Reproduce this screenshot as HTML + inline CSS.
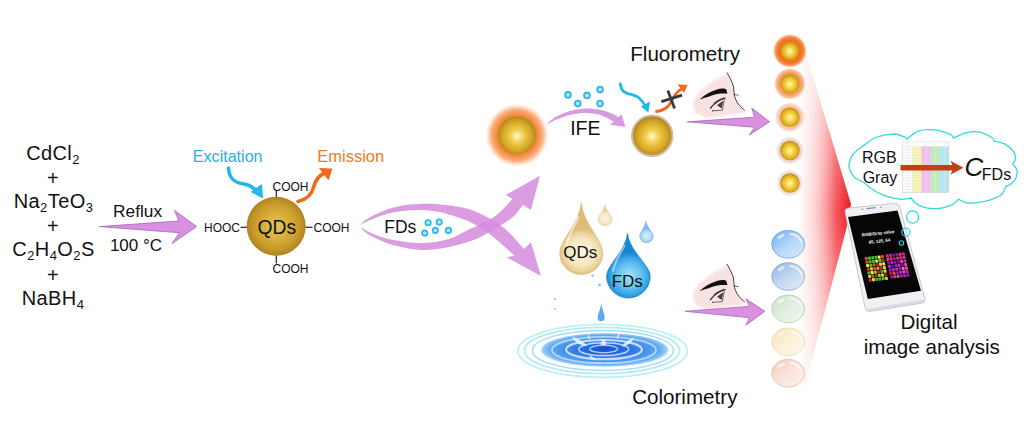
<!DOCTYPE html>
<html>
<head>
<meta charset="utf-8">
<title>QDs FDs sensing scheme</title>
<style>
html,body{margin:0;padding:0;background:#fff;}
body{width:1024px;height:422px;overflow:hidden;font-family:"Liberation Sans",sans-serif;}
svg{display:block;}
text{font-family:"Liberation Sans",sans-serif;fill:#111;}
.chem{font-size:20px;text-anchor:middle;}
.sub{font-size:13px;}
.sm{font-size:12px;}
</style>
</head>
<body>
<svg width="1024" height="422" viewBox="0 0 1024 422">
<defs>
  <radialGradient id="gold" cx="50%" cy="50%" r="50%">
    <stop offset="0" stop-color="#e8c658"/>
    <stop offset="0.45" stop-color="#d8ae3a"/>
    <stop offset="0.82" stop-color="#c4962a"/>
    <stop offset="1" stop-color="#ae8220"/>
  </radialGradient>
  <radialGradient id="goldw" cx="50%" cy="52%" r="50%">
    <stop offset="0" stop-color="#fffbe8"/>
    <stop offset="0.12" stop-color="#fbeaa0"/>
    <stop offset="0.4" stop-color="#eec844"/>
    <stop offset="0.75" stop-color="#d6a828"/>
    <stop offset="1" stop-color="#b48a1e"/>
  </radialGradient>
  <radialGradient id="glow" cx="50%" cy="50%" r="50%">
    <stop offset="0" stop-color="#f47a28"/>
    <stop offset="0.62" stop-color="#f5843a"/>
    <stop offset="0.8" stop-color="#f8a468" stop-opacity="0.9"/>
    <stop offset="0.92" stop-color="#fccbb0" stop-opacity="0.5"/>
    <stop offset="1" stop-color="#ffffff" stop-opacity="0"/>
  </radialGradient>
  <linearGradient id="beam" x1="1" y1="0" x2="0" y2="0">
    <stop offset="0" stop-color="#ee121c"/>
    <stop offset="0.28" stop-color="#f3444a" stop-opacity="0.9"/>
    <stop offset="0.58" stop-color="#f88e90" stop-opacity="0.55"/>
    <stop offset="0.84" stop-color="#fcc4c4" stop-opacity="0.28"/>
    <stop offset="1" stop-color="#ffffff" stop-opacity="0"/>
  </linearGradient>
  <linearGradient id="purp" x1="0" y1="0" x2="1" y2="0">
    <stop offset="0" stop-color="#d9a6e2"/>
    <stop offset="1" stop-color="#cf8fdc"/>
  </linearGradient>

  <radialGradient id="glow2" cx="50%" cy="50%" r="50%">
    <stop offset="0" stop-color="#f06a18"/><stop offset="0.7" stop-color="#f27424"/><stop offset="0.86" stop-color="#f69858" stop-opacity="0.9"/><stop offset="1" stop-color="#ffffff" stop-opacity="0"/>
  </radialGradient>
  <radialGradient id="glow3" cx="50%" cy="50%" r="50%">
    <stop offset="0" stop-color="#f48a40"/><stop offset="0.7" stop-color="#f6a064"/><stop offset="0.86" stop-color="#f9c09c" stop-opacity="0.9"/><stop offset="1" stop-color="#ffffff" stop-opacity="0"/>
  </radialGradient>
  <radialGradient id="glow4" cx="50%" cy="50%" r="50%">
    <stop offset="0" stop-color="#f6b088"/><stop offset="0.72" stop-color="#f8c4a6"/><stop offset="0.88" stop-color="#fbdccc" stop-opacity="0.9"/><stop offset="1" stop-color="#ffffff" stop-opacity="0"/>
  </radialGradient>
  <radialGradient id="glow5" cx="50%" cy="50%" r="50%">
    <stop offset="0" stop-color="#e8ccc0"/><stop offset="0.74" stop-color="#ecd8d0"/><stop offset="0.9" stop-color="#f4e8e4" stop-opacity="0.9"/><stop offset="1" stop-color="#ffffff" stop-opacity="0"/>
  </radialGradient>
  <linearGradient id="bub1" x1="0.15" y1="0.1" x2="0.85" y2="0.9">
    <stop offset="0" stop-color="#7fb8ee"/><stop offset="0.5" stop-color="#b4d6f6"/><stop offset="1" stop-color="#d4e8fa"/>
  </linearGradient>
  <linearGradient id="bub2" x1="0.15" y1="0.1" x2="0.85" y2="0.9">
    <stop offset="0" stop-color="#9cbce6"/><stop offset="0.5" stop-color="#c4d8f0"/><stop offset="1" stop-color="#dde8f6"/>
  </linearGradient>
  <linearGradient id="bub3" x1="0.15" y1="0.1" x2="0.85" y2="0.9">
    <stop offset="0" stop-color="#d0e5cf"/><stop offset="0.5" stop-color="#e3efe1"/><stop offset="1" stop-color="#f0f6ee"/>
  </linearGradient>
  <linearGradient id="bub4" x1="0.15" y1="0.1" x2="0.85" y2="0.9">
    <stop offset="0" stop-color="#f9e8be"/><stop offset="0.5" stop-color="#fbf1d8"/><stop offset="1" stop-color="#fdf7eb"/>
  </linearGradient>
  <linearGradient id="bub5" x1="0.15" y1="0.1" x2="0.85" y2="0.9">
    <stop offset="0" stop-color="#f5d2c1"/><stop offset="0.5" stop-color="#f9e4da"/><stop offset="1" stop-color="#fbf0eb"/>
  </linearGradient>
  <radialGradient id="dropg" gradientUnits="userSpaceOnUse" cx="582" cy="252" r="23">
    <stop offset="0" stop-color="#fbf4de"/><stop offset="0.55" stop-color="#f6e8c2"/><stop offset="0.82" stop-color="#ecd6a0"/><stop offset="1" stop-color="#dcbc78"/>
  </radialGradient>
  <radialGradient id="dropg2" gradientUnits="userSpaceOnUse" cx="605" cy="218.500" r="8">
    <stop offset="0" stop-color="#fcf6e4"/><stop offset="0.6" stop-color="#f6ead0"/><stop offset="1" stop-color="#e6cf9c"/>
  </radialGradient>
  <radialGradient id="dropb" gradientUnits="userSpaceOnUse" cx="629.500" cy="276" r="23.500">
    <stop offset="0" stop-color="#a6e2fa"/><stop offset="0.5" stop-color="#68c2f0"/><stop offset="0.8" stop-color="#36a4e4"/><stop offset="1" stop-color="#1886d0"/>
  </radialGradient>
  <radialGradient id="dropb2" gradientUnits="userSpaceOnUse" cx="646.500" cy="236" r="7.500">
    <stop offset="0" stop-color="#dceefb"/><stop offset="0.6" stop-color="#b4dcf6"/><stop offset="1" stop-color="#7cbcec"/>
  </radialGradient>
  <radialGradient id="rip" cx="50%" cy="48%" r="50%">
    <stop offset="0" stop-color="#1a54d0"/><stop offset="0.3" stop-color="#2468e0"/><stop offset="0.6" stop-color="#3f8cec"/><stop offset="0.85" stop-color="#62aaf2"/><stop offset="0.96" stop-color="#8cc6f6" stop-opacity="0.9"/><stop offset="1" stop-color="#b8e0fa" stop-opacity="0.3"/>
  </radialGradient>
  <filter id="soft" x="-10%" y="-10%" width="120%" height="120%"><feGaussianBlur stdDeviation="1.1"/></filter>
  <linearGradient id="vfade" gradientUnits="userSpaceOnUse" x1="0" y1="20" x2="0" y2="405">
    <stop offset="0" stop-color="#fff" stop-opacity="0.3"/><stop offset="0.28" stop-color="#fff" stop-opacity="0.72"/><stop offset="0.5" stop-color="#fff" stop-opacity="1"/><stop offset="0.72" stop-color="#fff" stop-opacity="0.72"/><stop offset="1" stop-color="#fff" stop-opacity="0.3"/>
  </linearGradient>
  <mask id="bmask" maskUnits="userSpaceOnUse" x="780" y="0" width="100" height="422"><rect x="780" y="0" width="100" height="422" fill="url(#vfade)"/></mask>
  <radialGradient id="golds" cx="50%" cy="52%" r="50%">
    <stop offset="0" stop-color="#fffef2"/><stop offset="0.2" stop-color="#fce97c"/><stop offset="0.55" stop-color="#f2c832"/><stop offset="0.85" stop-color="#d8a820"/><stop offset="1" stop-color="#b88c1c"/>
  </radialGradient>
  <filter id="soft2" x="-5%" y="-20%" width="110%" height="140%"><feGaussianBlur stdDeviation="0.5"/></filter>
</defs>

<!-- LEFT CHEMICALS -->
<g id="chems" letter-spacing="0.4">
<text class="chem" x="53" y="160">CdCl<tspan class="sub" dy="4">2</tspan></text>
<text class="chem" x="53" y="184.500">+</text>
<text class="chem" x="53.500" y="208">Na<tspan class="sub" dy="4">2</tspan><tspan dy="-4">TeO</tspan><tspan class="sub" dy="4">3</tspan></text>
<text class="chem" x="53" y="233">+</text>
<text class="chem" x="53.500" y="256">C<tspan class="sub" dy="4">2</tspan><tspan dy="-4">H</tspan><tspan class="sub" dy="4">4</tspan><tspan dy="-4">O</tspan><tspan class="sub" dy="4">2</tspan><tspan dy="-4">S</tspan></text>
<text class="chem" x="53" y="281.500">+</text>
<text class="chem" x="53" y="304.500">NaBH<tspan class="sub" dy="4">4</tspan></text>
</g>

<!-- REFLUX ARROW -->
<g id="reflux">
<path d="M99.500,226.600 L179,221 L174.500,210.500 L196.700,226.600 L172,243.500 L179.500,232.700 Z" fill="#d990e0" stroke="#aa6fc0" stroke-width="0.9" stroke-linejoin="miter"/>
<text x="137.600" y="216.600" font-size="17.300" text-anchor="middle">Reflux</text>
<text x="136" y="250.500" font-size="17" text-anchor="middle">100 °C</text>
</g>

<!-- QDs sphere -->
<g id="qd">
<g stroke="#222" stroke-width="1.200">
<line x1="276.300" y1="191" x2="276.300" y2="199"/>
<line x1="276.300" y1="253" x2="276.300" y2="263.500"/>
<line x1="240.500" y1="227.300" x2="249" y2="227.300"/>
<line x1="303" y1="227.300" x2="312.500" y2="227.300"/>
</g>
<circle cx="276.200" cy="226.200" r="29.500" fill="url(#gold)"/>
<text x="276.800" y="233.500" font-size="19.300" text-anchor="middle">QDs</text>
<text class="sm" x="290.500" y="190.500" text-anchor="middle">COOH</text>
<text class="sm" x="290.500" y="273.200" text-anchor="middle">COOH</text>
<text class="sm" x="222" y="231.700" text-anchor="middle">HOOC</text>
<text class="sm" x="331.500" y="231.700" text-anchor="middle">COOH</text>
<text x="227.700" y="162.300" font-size="16.100" text-anchor="middle" style="fill:#2aaee4">Excitation</text>
<text x="350.700" y="162.300" font-size="16.500" text-anchor="middle" style="fill:#f07a28">Emission</text>
<path d="M228.500,168 C229,180 236,183 244,184 C250,185 254,188 257,192" fill="none" stroke="#25b6ea" stroke-width="3.600" stroke-linecap="round"/>
<path d="M263,198.500 L250.500,192 L262,184 Z" fill="#25b6ea"/>
<path d="M298,201.500 C308,199 312,194 314,186 C316,179 319,175.500 324,173.500" fill="none" stroke="#ee6a1c" stroke-width="3.600" stroke-linecap="round"/>
<path d="M332.500,168.500 L319,168 L328.500,180.500 Z" fill="#ee6a1c"/>
</g>

<!-- FDs fish arrows -->
<g id="fish">
<!-- lower band -> upper right arrow -->
<path d="M359.4,225.8 C360.7,227.1 362.9,230.8 367.0,233.5 C371.1,236.2 378.4,239.7 384.1,242.0 C389.8,244.3 395.5,245.8 401.2,247.1 C406.9,248.4 412.5,249.3 418.2,249.7 C423.9,250.1 429.6,249.9 435.3,249.3 C441.0,248.7 446.8,247.6 452.3,246.3 C457.8,245.0 463.3,243.4 468.4,241.7 C473.4,240.0 477.4,238.7 482.6,236.1 C487.8,233.5 494.5,229.4 499.7,226.1 C504.9,222.8 510.0,219.8 513.9,216.2 C517.8,212.6 521.5,206.7 523.0,204.8 L531.0,209.9 L540.0,175.8 L506.0,194.8 L512.5,199.1 C509.9,201.7 501.9,210.7 496.9,214.7 C491.9,218.7 487.4,220.8 482.6,223.3 C477.9,225.8 473.4,227.4 468.4,229.8 C463.3,232.2 457.8,235.7 452.3,237.7 C446.8,239.7 441.0,241.1 435.3,242.0 C429.6,242.9 423.9,243.0 418.2,242.9 C412.5,242.8 406.9,242.1 401.2,241.2 C395.5,240.3 389.8,239.4 384.1,237.7 C378.4,236.0 371.1,232.9 367.0,230.9 C362.9,228.9 360.7,226.7 359.4,225.8 Z" fill="#d68ddc" fill-opacity="0.87"/>
<!-- upper band -> lower right arrow -->
<path d="M359.4,225.8 C360.7,224.7 362.9,221.6 367.0,219.0 C371.1,216.4 378.4,212.7 384.1,210.5 C389.8,208.3 395.5,206.8 401.2,205.7 C406.9,204.6 412.5,204.3 418.2,204.0 C423.9,203.7 429.6,203.7 435.3,204.0 C441.0,204.3 446.8,204.9 452.3,205.7 C457.8,206.5 463.3,207.5 468.4,209.0 C473.4,210.5 477.4,212.1 482.6,214.7 C487.8,217.3 494.7,221.1 499.7,224.7 C504.7,228.2 508.5,232.0 512.5,236.0 C516.5,240.0 522.0,246.8 523.9,248.9 L531.0,242.3 L540.9,275.9 L506.8,257.4 L514.5,255.4 C513.0,254.1 508.8,250.4 505.4,247.4 C502.0,244.4 497.8,240.6 494.0,237.5 C490.2,234.4 486.9,231.7 482.6,229.0 C478.3,226.3 473.4,223.5 468.4,221.3 C463.3,219.1 457.8,217.3 452.3,215.6 C446.8,213.9 441.0,212.2 435.3,211.3 C429.6,210.4 423.9,210.1 418.2,210.1 C412.5,210.1 406.9,210.5 401.2,211.3 C395.5,212.1 389.8,213.0 384.1,214.7 C378.4,216.4 371.1,219.7 367.0,221.5 C362.9,223.3 360.7,225.1 359.4,225.8 Z" fill="#d68ddc" fill-opacity="0.87"/>
<text x="400.300" y="232.800" font-size="17.500" text-anchor="middle">FDs</text>
<g fill="#a4ecff" stroke="#30b4ea" stroke-width="1.7">
<circle cx="428.100" cy="222.700" r="2.700"/>
<circle cx="439.200" cy="222.100" r="2.700"/>
<circle cx="424.700" cy="233.100" r="2.700"/>
<circle cx="435.300" cy="230.400" r="2.700"/>
<circle cx="448.400" cy="230.400" r="2.700"/>
</g>
</g>

<!-- TOP ROW: fluorometry -->
<g id="top">
<circle cx="517" cy="135.300" r="32" fill="url(#glow)"/>
<circle cx="517" cy="135.300" r="19" fill="url(#goldw)"/>
<!-- IFE crescent arrow -->
<path d="M545.4,125.5 C547.1,124.1 551.2,119.5 555.4,117.0 C559.6,114.5 565.7,112.2 570.8,110.8 C575.9,109.4 581.1,108.6 586.2,108.5 C591.3,108.4 597.0,109.0 601.6,110.0 C606.2,111.0 611.2,113.5 614.0,114.7 C616.8,115.9 617.8,116.6 618.6,117.0 L621.4,114.2 L625.5,127.0 L610.1,124.7 L614.0,121.6 C611.9,120.6 606.2,116.8 601.6,115.4 C597.0,114.0 591.3,113.2 586.2,113.1 C581.1,113.0 575.9,113.5 570.8,114.7 C565.7,115.9 559.6,118.3 555.4,120.1 C551.2,121.9 547.1,124.6 545.4,125.5 Z" fill="#d99ae0"/>
<text x="585.300" y="135.200" font-size="19.500" text-anchor="middle">IFE</text>
<g fill="#a4ecff" stroke="#30b4ea" stroke-width="1.8">
<circle cx="568" cy="94.900" r="2.900"/>
<circle cx="587" cy="95.400" r="2.900"/>
<circle cx="600.100" cy="89.600" r="2.900"/>
<circle cx="577.800" cy="103.600" r="2.900"/>
<circle cx="600.100" cy="103.600" r="2.900"/>
</g>
<!-- quenched sphere -->
<circle cx="652.200" cy="135.700" r="21.300" fill="#d2bdb2"/>
<circle cx="652.200" cy="135.700" r="19.300" fill="url(#goldw)"/>
<!-- cyan wavy arrow -->
<path d="M620.300,84 C622,97 633,92 639,98 C642,100.500 644,103.500 645.500,106.500" fill="none" stroke="#1fb8ea" stroke-width="2.800" stroke-linecap="round"/>
<path d="M648.300,112.600 L641,106.400 L650,101.400 Z" fill="#1fb8ea"/>
<!-- orange wavy arrow -->
<path d="M656.500,111.500 C664,110.500 668,108 671,102 C674,95.500 677,91 682,89" fill="none" stroke="#ee6a1c" stroke-width="2.800" stroke-linecap="round"/>
<path d="M687.600,85 L684,93 L677.500,84.300 Z" fill="#ee6a1c"/>
<!-- X mark -->
<g stroke="#3a3a3a" stroke-width="2.800" stroke-linecap="butt">
<line x1="661.400" y1="101.600" x2="682.100" y2="95.200"/>
<line x1="667.800" y1="90.500" x2="674.600" y2="108.600"/>
</g>
<!-- face top -->
<g id="faceA">
<path d="M727.7,73.3 L713.4,80.9 L699.2,92.0 L692.8,102.3 L695.0,112.7 L706.3,118.3 L746.2,112.7 L740.8,107.0 L735.5,99.1 L734.1,92.7 L733.1,86.3 L730.5,79.2 Z" fill="#f8e2e2" filter="url(#soft)"/>
<path d="M727.1,72.8 C727.7,73.9 729.5,77.0 730.5,79.2 C731.6,81.5 732.8,84.0 733.4,86.3 C734.0,88.7 733.7,91.3 734.1,93.4 C734.4,95.6 734.7,97.2 735.5,99.1 C736.3,101.1 737.6,103.3 739.1,105.1 C740.5,107.0 743.6,109.4 744.5,110.2" fill="none" stroke="#111" stroke-width="0.8" stroke-linecap="round"/>
<path d="M733.6,94.2 L738.8,95.3" stroke="#111" stroke-width="0.6" fill="none"/>
<path d="M699.9,99.1 C700.8,98.5 703.1,96.3 704.9,95.2 C706.7,94.0 708.6,93.0 710.6,92.0 C712.6,91.1 715.1,90.1 717.0,89.5 C718.9,88.9 720.7,88.5 722.3,88.5 C723.8,88.4 725.6,89.1 726.3,89.2 L727.4,93.4 C726.3,93.5 722.8,93.4 720.6,93.6 C718.4,93.8 716.3,94.2 714.2,94.7 C712.0,95.3 710.1,96.1 707.8,96.9 C705.4,97.6 701.2,98.9 699.9,99.3 Z" fill="#141010"/>
<path d="M711.7,108.4 L724.5,98.9 L722.6,110.2 Z" fill="#f4ecec"/>
<path d="M717.0,105.3 L723.4,100.6 L721.7,108.4 Z" fill="#4a3c3c"/>
<path d="M710.6,108.0 C711.2,107.3 712.7,105.4 714.2,104.1 C715.6,102.9 717.3,101.6 719.1,100.6 C721.0,99.5 724.1,98.4 725.1,98.0" fill="none" stroke="#111" stroke-width="1.200" stroke-linecap="round"/>
<path d="M713.4,103.1 C714.3,102.6 716.7,100.9 718.4,100.0 C720.1,99.0 722.8,97.9 723.7,97.4" fill="none" stroke="#222" stroke-width="0.5"/>
<path d="M712.0,110.8 L722.3,110.2 L724.5,98.9" fill="none" stroke="#111" stroke-width="0.6" stroke-linejoin="round"/>
<circle cx="712.7" cy="110.9" r="0.500" fill="#333"/>
</g>
<!-- arrow to column -->
<path d="M687.400,121.800 L754.600,117.200 L751.800,108 L769.500,121.800 L749.300,135 L754.600,127.200 Z" fill="#d990e0" stroke="#aa6fc0" stroke-width="0.9"/>
</g>


<!-- RED BEAM -->
<path d="M796,20 L851,204 L846,230 L800,405 Z" fill="url(#beam)" mask="url(#bmask)"/>

<!-- FLUOROMETRY COLUMN -->
<g id="col1">
<circle cx="789.900" cy="50.900" r="17.500" fill="url(#glow2)"/>
<circle cx="789.900" cy="83.800" r="16.500" fill="url(#glow3)"/>
<circle cx="789.900" cy="117.200" r="15.500" fill="url(#glow4)"/>
<circle cx="789.900" cy="150.500" r="14.500" fill="url(#glow5)"/>
<circle cx="789.900" cy="183" r="14" fill="url(#glow5)" opacity="0.85"/>
<circle cx="789.900" cy="50.900" r="9.300" fill="url(#golds)"/>
<circle cx="789.900" cy="83.800" r="9.600" fill="url(#golds)"/>
<circle cx="789.900" cy="117.200" r="9.800" fill="url(#golds)"/>
<circle cx="789.900" cy="150.500" r="9.800" fill="url(#golds)"/>
<circle cx="789.900" cy="183" r="9.800" fill="url(#golds)"/>
</g>

<!-- COLORIMETRY COLUMN -->
<g id="col2">
<ellipse cx="788.200" cy="244.3" rx="16.500" ry="13.800" fill="url(#bub1)" stroke="#5a9ee0" stroke-width="0.9" stroke-opacity="0.85"/>
<ellipse cx="788.200" cy="276.5" rx="16.500" ry="13.800" fill="url(#bub2)" stroke="#7ea6d8" stroke-width="0.9" stroke-opacity="0.85"/>
<ellipse cx="788.200" cy="308.8" rx="16.500" ry="13.800" fill="url(#bub3)" stroke="#a8c8a6" stroke-width="0.9" stroke-opacity="0.85"/>
<ellipse cx="788.200" cy="341.8" rx="16.500" ry="13.800" fill="url(#bub4)" stroke="#ecd4a0" stroke-width="0.9" stroke-opacity="0.85"/>
<ellipse cx="788.200" cy="373.2" rx="16.500" ry="13.800" fill="url(#bub5)" stroke="#e6b8a2" stroke-width="0.9" stroke-opacity="0.85"/>
<g fill="none" stroke="#fff" stroke-opacity="0.8" stroke-width="1.600" stroke-linecap="round">
<path d="M790.0,233.8 C795.0,234.3 799.5,237.3 801.5,241.8"/>
<path d="M790.0,266.0 C795.0,266.5 799.5,269.5 801.5,274.0"/>
<path d="M790.0,298.3 C795.0,298.8 799.5,301.8 801.5,306.3"/>
<path d="M790.0,331.3 C795.0,331.8 799.5,334.8 801.5,339.3"/>
<path d="M790.0,362.7 C795.0,363.2 799.5,366.2 801.5,370.7"/>
</g>
<g fill="#fff" fill-opacity="0.6">
<ellipse cx="781" cy="236.3" rx="4" ry="1.600" transform="rotate(-30 781 236.3)"/>
<ellipse cx="781" cy="268.5" rx="4" ry="1.600" transform="rotate(-30 781 268.5)"/>
<ellipse cx="781" cy="300.8" rx="4" ry="1.600" transform="rotate(-30 781 300.8)"/>
<ellipse cx="781" cy="333.8" rx="4" ry="1.600" transform="rotate(-30 781 333.8)"/>
<ellipse cx="781" cy="365.2" rx="4" ry="1.600" transform="rotate(-30 781 365.2)"/>
</g>
</g>

<!-- DROPS -->
<g id="drops">
<path d="M581.3,202.7 C582.8,222.8 602.8,240.4 602.8,253.0 A21.5,21.5 0 1 1 559.8,253.0 C559.8,240.4 579.8,222.8 581.3,202.7 Z" fill="url(#dropg)" stroke="#d8b870" stroke-width="0.7"/>
<path d="M566,247 C568,236 574,228 578,217" fill="none" stroke="#fff" stroke-opacity="0.55" stroke-width="2.200" stroke-linecap="round"/>
<path d="M605.0,204.8 C605.5,209.7 612.0,216.0 612.0,218.8 A7.0,7.0 0 1 1 598.0,218.8 C598.0,216.0 604.5,209.7 605.0,204.8 Z" fill="url(#dropg2)" stroke="#e4cc98" stroke-width="0.6"/>
<path d="M627.5,233.5 C629.0,250.6 650.2,265.5 650.2,276.2 A21.8,21.8 0 1 1 606.6,276.2 C606.6,265.5 626.0,250.6 627.5,233.5 Z" fill="url(#dropb)" stroke="#1480cc" stroke-width="0.8"/>
<path d="M613,271 C615,261 620,254 624.500,246" fill="none" stroke="#fff" stroke-opacity="0.45" stroke-width="2.200" stroke-linecap="round"/>
<path d="M645.9,221.2 C646.4,226.4 653.3,233.0 653.3,236.0 A6.8,6.8 0 1 1 639.7,236.0 C639.7,233.0 645.4,226.4 645.9,221.2 Z" fill="url(#dropb2)" stroke="#78b8ea" stroke-width="0.6"/>
<path d="M601.200,302.500 C601.800,310 604.600,313 604.600,317.500 A3.400,3.800 0 1 1 597.800,317.500 C597.800,313 600.600,310 601.200,302.500 Z" fill="#5aa8ee"/>
<g fill="#7cc0f0"><circle cx="592.700" cy="275.600" r="1.200"/><circle cx="599.500" cy="285" r="1.300"/><circle cx="555.200" cy="299" r="0.900"/><circle cx="555.200" cy="308.800" r="0.900"/><circle cx="597" cy="266" r="0.800"/></g>
<text x="580.300" y="257.500" font-size="17" text-anchor="middle">QDs</text>
<text x="627.300" y="287.300" font-size="17" text-anchor="middle">FDs</text>
</g>

<!-- RIPPLE -->
<g id="ripple">
<ellipse cx="602.700" cy="350.900" rx="84.600" ry="26.500" fill="none" stroke="#bdf0f2" stroke-width="1.900" filter="url(#soft2)"/>
<ellipse cx="602" cy="350.500" rx="77.500" ry="23.200" fill="none" stroke="#b4ecf4" stroke-width="1.800" filter="url(#soft2)"/>
<ellipse cx="603" cy="350.500" rx="70.500" ry="20" fill="none" stroke="#a4dcf8" stroke-width="1.500" filter="url(#soft2)"/>
<ellipse cx="604.700" cy="350.400" rx="64.500" ry="17.200" fill="url(#rip)"/>
<ellipse cx="604" cy="350" rx="52" ry="13.200" fill="none" stroke="#cfe8fc" stroke-width="1.800" opacity="0.75"/>
<ellipse cx="604" cy="349.600" rx="38" ry="9.600" fill="none" stroke="#ffffff" stroke-width="2.200" opacity="0.7"/>
<ellipse cx="603.700" cy="349.200" rx="25" ry="6.400" fill="none" stroke="#e0f0fe" stroke-width="1.600" opacity="0.8"/>
<ellipse cx="603.700" cy="349" rx="14" ry="3.800" fill="none" stroke="#bfe0fc" stroke-width="1.300" opacity="0.9"/>
<ellipse cx="603.700" cy="349" rx="5" ry="1.700" fill="#1a50c8"/>
<g fill="#e8f4ff" opacity="0.9">
<path d="M572,337 C578,338 584,342 587,346 C581,346 574,342 572,337 Z"/>
<path d="M634,338 C628,339.500 624,343 621.500,346.500 C627.500,346 632,342.500 634,338 Z"/>
<path d="M603.500,339 C605.500,341 606.500,343 606.500,344.500 C604.500,345.200 602,345.200 600.500,344.500 C600.500,343 601.500,341 603.500,339 Z"/>
<path d="M588,333.500 C589.500,336 590.200,338 590,340 C588.500,339 587.500,336.500 588,333.500 Z"/>
<path d="M620,332.500 C619.500,335 618.500,337.500 617,339 C616.600,337 617.500,334.500 620,332.500 Z"/>
<path d="M589,355 C592,356 595,358 596,360 C592.500,360 590,358 589,355 Z"/>
</g>
</g>

<!-- BOTTOM FACE + ARROW -->
<g id="faceB" transform="translate(0,191.500)">
<path d="M727.7,73.3 L713.4,80.9 L699.2,92.0 L692.8,102.3 L695.0,112.7 L706.3,118.3 L746.2,112.7 L740.8,107.0 L735.5,99.1 L734.1,92.7 L733.1,86.3 L730.5,79.2 Z" fill="#f8e2e2" filter="url(#soft)"/>
<path d="M727.1,72.8 C727.7,73.9 729.5,77.0 730.5,79.2 C731.6,81.5 732.8,84.0 733.4,86.3 C734.0,88.7 733.7,91.3 734.1,93.4 C734.4,95.6 734.7,97.2 735.5,99.1 C736.3,101.1 737.6,103.3 739.1,105.1 C740.5,107.0 743.6,109.4 744.5,110.2" fill="none" stroke="#111" stroke-width="0.8" stroke-linecap="round"/>
<path d="M733.6,94.2 L738.8,95.3" stroke="#111" stroke-width="0.6" fill="none"/>
<path d="M699.9,99.1 C700.8,98.5 703.1,96.3 704.9,95.2 C706.7,94.0 708.6,93.0 710.6,92.0 C712.6,91.1 715.1,90.1 717.0,89.5 C718.9,88.9 720.7,88.5 722.3,88.5 C723.8,88.4 725.6,89.1 726.3,89.2 L727.4,93.4 C726.3,93.5 722.8,93.4 720.6,93.6 C718.4,93.8 716.3,94.2 714.2,94.7 C712.0,95.3 710.1,96.1 707.8,96.9 C705.4,97.6 701.2,98.9 699.9,99.3 Z" fill="#141010"/>
<path d="M711.7,108.4 L724.5,98.9 L722.6,110.2 Z" fill="#f4ecec"/>
<path d="M717.0,105.3 L723.4,100.6 L721.7,108.4 Z" fill="#4a3c3c"/>
<path d="M710.6,108.0 C711.2,107.3 712.7,105.4 714.2,104.1 C715.6,102.9 717.3,101.6 719.1,100.6 C721.0,99.5 724.1,98.4 725.1,98.0" fill="none" stroke="#111" stroke-width="1.200" stroke-linecap="round"/>
<path d="M713.4,103.1 C714.3,102.6 716.7,100.9 718.4,100.0 C720.1,99.0 722.8,97.9 723.7,97.4" fill="none" stroke="#222" stroke-width="0.5"/>
<path d="M712.0,110.8 L722.3,110.2 L724.5,98.9" fill="none" stroke="#111" stroke-width="0.6" stroke-linejoin="round"/>
<circle cx="712.7" cy="110.9" r="0.500" fill="#333"/>
</g>
<path d="M685.200,311.300 L749.600,306.400 L745.800,298.800 L764.800,311.300 L745.800,325.300 L749.600,317.700 Z" fill="#d990e0" stroke="#aa6fc0" stroke-width="0.9"/>

<!-- CLOUD -->
<g id="cloud">
<path d="M864.9,144.6 C866.7,143.5 870.6,139.3 875.6,137.5 C880.5,135.7 889.6,134.0 894.5,134.0 C899.5,134.0 903.2,136.7 905.2,137.5 C907.3,138.4 906.6,138.9 906.9,139.2 C908.8,137.8 913.6,132.7 918.3,131.1 C922.9,129.6 929.5,129.4 934.9,129.9 C940.2,130.5 947.2,133.1 950.3,134.4 C953.4,135.8 952.8,137.6 953.4,138.2 C955.4,137.3 961.3,133.8 965.7,132.8 C970.1,131.8 975.6,131.3 979.9,132.1 C984.3,132.9 989.4,136.0 991.8,137.5 C994.1,139.0 993.7,140.5 994.1,141.1 C996.1,141.7 1002.6,142.7 1006.0,144.6 C1009.4,146.6 1012.8,150.3 1014.3,152.9 C1015.8,155.6 1015.3,158.8 1015.0,160.5 C1014.7,162.3 1013.0,163.1 1012.6,163.6 C1013.3,164.7 1016.4,167.4 1016.9,170.0 C1017.4,172.6 1016.7,176.5 1015.5,179.0 C1014.3,181.5 1011.1,183.8 1009.6,185.0 C1008.0,186.1 1006.6,185.9 1006.0,186.1 C1005.3,187.5 1004.1,192.2 1001.7,194.4 C999.4,196.7 995.0,198.2 991.8,199.4 C988.5,200.6 986.2,201.2 982.3,201.8 C978.3,202.4 972.0,203.6 968.1,203.2 C964.1,202.8 960.1,199.9 958.6,199.2 C957.4,200.2 955.4,203.5 951.5,205.1 C947.5,206.7 940.4,208.7 934.9,208.7 C929.3,208.7 922.2,206.9 918.3,205.1 C914.3,203.3 912.3,199.2 911.1,198.0 C909.2,198.2 904.0,199.7 899.3,199.2 C894.5,198.7 887.6,196.9 882.7,194.9 C877.7,192.9 872.7,189.4 869.6,187.3 C866.6,185.3 865.1,183.4 864.2,182.6 C862.5,181.7 856.7,179.4 854.2,177.1 C851.8,174.9 850.3,171.6 849.5,169.1 C848.7,166.5 848.8,164.6 849.5,162.0 C850.2,159.3 851.2,156.3 853.8,153.4 C856.3,150.5 863.0,146.1 864.9,144.6 Z" fill="#fff" stroke="#36d6dc" stroke-width="1.300" stroke-linejoin="round"/>
<text x="879.300" y="163.100" font-size="16" text-anchor="middle">RGB</text>
<text x="880" y="182.600" font-size="16" text-anchor="middle">Gray</text>
<!-- table -->
<g id="tbl">
<rect x="902.4" y="141.9" width="46.5" height="50.4" fill="#fdfdfd"/>
<rect x="912.7" y="146.6" width="8.8" height="45.7" fill="#fbf8ae"/>
<rect x="921.5" y="146.6" width="9.2" height="45.7" fill="#f5bcf4"/>
<rect x="930.7" y="146.6" width="9.0" height="45.7" fill="#baf0b6"/>
<rect x="939.7" y="146.6" width="9.2" height="45.7" fill="#b6e8f5"/>
<g stroke="#d0d0d0" stroke-width="0.3" fill="none"><path d="M902.4,146.6H948.9 M902.4,149.5H948.9 M902.4,152.3H948.9 M902.4,155.2H948.9 M902.4,158.0H948.9 M902.4,160.9H948.9 M902.4,163.8H948.9 M902.4,166.6H948.9 M902.4,169.5H948.9 M902.4,172.3H948.9 M902.4,175.2H948.9 M902.4,178.1H948.9 M902.4,180.9H948.9 M902.4,183.8H948.9 M902.4,186.6H948.9 M902.4,189.5H948.9 M902.4,192.4H948.9"/><path d="M907.5,141.9V192.3 M912.7,146.6V192.3 M917.1,141.9V192.3 M921.5,146.6V192.3 M926.1,141.9V192.3 M930.7,146.6V192.3 M935.2,141.9V192.3 M939.7,146.6V192.3 M944.3,141.9V192.3"/></g>
<g stroke="#fff" stroke-width="0.5" stroke-opacity="0.7"><path d="M917.100,146.6V192.3 M926.100,146.6V192.3 M935.200,146.6V192.3 M944.300,146.6V192.3"/></g>
<rect x="902.4" y="141.9" width="46.5" height="50.4" fill="none" stroke="#c4c4c4" stroke-width="0.4"/>
</g>
<path d="M900.500,165.100 L952.500,165.100 L950.300,160.800 L963.500,167.800 L950.300,174.800 L952.500,170.500 L900.500,170.500 Z" fill="#c83c14"/>
<text x="964.500" y="176.400" font-size="26" font-style="italic">C</text>
<text x="981.800" y="180.400" font-size="16">FDs</text>
</g>

<!-- PHONE -->
<g id="phone">
<path d="M845.2,212.9 Q844.3,208.5 848.8,208.0 L894.0,203.3 Q898.5,202.8 899.7,207.1 L924.8,298.2 Q926.0,302.5 921.6,303.2 L870.4,311.3 Q866.0,312.0 865.1,307.6 Z" fill="#f0f0f4" stroke="#c2c2ca" stroke-width="0.9"/>
<path d="M867.500,311.700 L925,302.200 L924.300,299.500 L866.800,309 Z" fill="#d4d4de" opacity="0.8"/>
<path d="M848.0,217.0 L897.5,210.4 L921.0,290.7 L867.8,299.0 Z" fill="#060606"/>
<circle cx="912.600" cy="217" r="6.100" fill="#fff" stroke="#36d6dc" stroke-width="1.200"/>
<circle cx="905.900" cy="232.300" r="4.100" fill="none" stroke="#36d6dc" stroke-width="1.200"/>
<circle cx="901.400" cy="243" r="2.200" fill="none" stroke="#36d6dc" stroke-width="1.100"/>
<g fill="#8a8a92"><circle cx="862.500" cy="209.300" r="0.800"/><path d="M866.500,208 L875.500,207 L875.600,208.200 L866.600,209.200 Z"/><circle cx="881" cy="207.200" r="0.800"/></g>
<g transform="rotate(-6.500 878 237)">
<text x="878.600" y="234.800" font-size="4.300" font-weight="bold" text-anchor="middle" style="fill:#fff">RGB/Gray  value</text>
<text x="879" y="242.700" font-size="4.300" font-weight="bold" text-anchor="middle" style="fill:#fff">85, 125, 64</text>
</g>
<g id="grids">
<path d="M864.6,257.1 L867.3,256.8 L867.9,259.8 L865.2,260.1 Z" fill="#e05818"/><path d="M867.8,256.8 L870.5,256.5 L871.1,259.5 L868.4,259.8 Z" fill="#40c040"/><path d="M871.1,256.4 L873.8,256.1 L874.3,259.1 L871.6,259.4 Z" fill="#58b830"/><path d="M874.3,256.1 L877.0,255.8 L877.6,258.8 L874.9,259.1 Z" fill="#40c040"/><path d="M877.5,255.7 L880.2,255.4 L880.8,258.4 L878.1,258.7 Z" fill="#f4f060"/><path d="M880.8,255.3 L883.5,255.1 L884.0,258.1 L881.3,258.4 Z" fill="#e05818"/><path d="M865.3,260.7 L868.0,260.4 L868.6,263.4 L865.8,263.7 Z" fill="#e05818"/><path d="M868.5,260.4 L871.2,260.1 L871.8,263.1 L869.1,263.4 Z" fill="#58b830"/><path d="M871.7,260.0 L874.5,259.7 L875.0,262.7 L872.3,263.0 Z" fill="#40c040"/><path d="M875.0,259.7 L877.7,259.4 L878.3,262.4 L875.5,262.7 Z" fill="#f0e040"/><path d="M878.2,259.3 L880.9,259.0 L881.5,262.0 L878.8,262.3 Z" fill="#78c828"/><path d="M881.4,258.9 L884.2,258.7 L884.7,261.7 L882.0,262.0 Z" fill="#d83020"/><path d="M865.9,264.3 L868.7,264.0 L869.2,267.0 L866.5,267.3 Z" fill="#f4f060"/><path d="M869.2,263.9 L871.9,263.7 L872.5,266.7 L869.7,267.0 Z" fill="#58b830"/><path d="M872.4,263.6 L875.1,263.3 L875.7,266.3 L873.0,266.6 Z" fill="#e05818"/><path d="M875.6,263.2 L878.4,263.0 L878.9,266.0 L876.2,266.3 Z" fill="#b02818"/><path d="M878.9,262.9 L881.6,262.6 L882.2,265.6 L879.4,265.9 Z" fill="#f0e040"/><path d="M882.1,262.6 L884.8,262.3 L885.4,265.3 L882.7,265.6 Z" fill="#f4f060"/><path d="M866.6,267.9 L869.3,267.6 L869.9,270.6 L867.2,270.9 Z" fill="#d83020"/><path d="M869.8,267.6 L872.6,267.3 L873.1,270.3 L870.4,270.6 Z" fill="#e8d820"/><path d="M873.1,267.2 L875.8,266.9 L876.4,269.9 L873.6,270.2 Z" fill="#e05818"/><path d="M876.3,266.9 L879.0,266.6 L879.6,269.6 L876.9,269.9 Z" fill="#f0a018"/><path d="M879.5,266.5 L882.3,266.2 L882.8,269.2 L880.1,269.5 Z" fill="#d83020"/><path d="M882.8,266.1 L885.5,265.9 L886.1,268.9 L883.3,269.2 Z" fill="#e8d820"/><path d="M867.3,271.5 L870.0,271.2 L870.6,274.2 L867.8,274.5 Z" fill="#58b830"/><path d="M870.5,271.1 L873.2,270.9 L873.8,273.9 L871.1,274.2 Z" fill="#f4f060"/><path d="M873.8,270.8 L876.5,270.5 L877.0,273.5 L874.3,273.8 Z" fill="#90d038"/><path d="M877.0,270.4 L879.7,270.2 L880.3,273.2 L877.5,273.5 Z" fill="#b02818"/><path d="M880.2,270.1 L882.9,269.8 L883.5,272.8 L880.8,273.1 Z" fill="#3cb43c"/><path d="M883.5,269.8 L886.2,269.5 L886.7,272.5 L884.0,272.8 Z" fill="#f0e040"/><path d="M868.0,275.1 L870.7,274.8 L871.2,277.8 L868.5,278.1 Z" fill="#c8e030"/><path d="M871.2,274.8 L873.9,274.5 L874.5,277.5 L871.8,277.8 Z" fill="#e05818"/><path d="M874.4,274.4 L877.1,274.1 L877.7,277.1 L875.0,277.4 Z" fill="#b02818"/><path d="M877.7,274.1 L880.4,273.8 L880.9,276.8 L878.2,277.1 Z" fill="#90d038"/><path d="M880.9,273.7 L883.6,273.4 L884.2,276.4 L881.5,276.7 Z" fill="#f0e040"/><path d="M884.1,273.3 L886.8,273.1 L887.4,276.1 L884.7,276.4 Z" fill="#b02818"/><path d="M868.6,278.7 L871.3,278.4 L871.9,281.4 L869.2,281.7 Z" fill="#d83020"/><path d="M871.9,278.3 L874.6,278.1 L875.1,281.1 L872.4,281.4 Z" fill="#f0e040"/><path d="M875.1,278.0 L877.8,277.7 L878.4,280.7 L875.7,281.0 Z" fill="#3cb43c"/><path d="M878.3,277.6 L881.0,277.4 L881.6,280.4 L878.9,280.7 Z" fill="#40c040"/><path d="M881.6,277.3 L884.3,277.0 L884.8,280.0 L882.1,280.3 Z" fill="#58b830"/><path d="M884.8,276.9 L887.5,276.7 L888.1,279.7 L885.4,280.0 Z" fill="#e8d820"/>
<path d="M885.5,254.4 L888.2,254.1 L888.9,257.1 L886.1,257.4 Z" fill="#d020a0"/><path d="M888.8,254.0 L891.5,253.7 L892.1,256.7 L889.4,257.0 Z" fill="#d020a0"/><path d="M892.0,253.7 L894.7,253.4 L895.4,256.3 L892.6,256.6 Z" fill="#7820b0"/><path d="M895.2,253.3 L898.0,253.0 L898.6,256.0 L895.9,256.3 Z" fill="#7820b0"/><path d="M898.5,252.9 L901.2,252.6 L901.9,255.6 L899.1,255.9 Z" fill="#d84070"/><path d="M901.8,252.6 L904.5,252.3 L905.1,255.2 L902.4,255.5 Z" fill="#d020a0"/><path d="M886.2,257.9 L889.0,257.6 L889.6,260.6 L886.9,260.9 Z" fill="#d06060"/><path d="M889.5,257.6 L892.2,257.3 L892.8,260.2 L890.1,260.6 Z" fill="#e82888"/><path d="M892.7,257.2 L895.5,256.9 L896.1,259.9 L893.4,260.2 Z" fill="#c01848"/><path d="M896.0,256.8 L898.7,256.5 L899.3,259.5 L896.6,259.8 Z" fill="#e82888"/><path d="M899.2,256.5 L902.0,256.2 L902.6,259.1 L899.9,259.5 Z" fill="#d84070"/><path d="M902.5,256.1 L905.2,255.8 L905.8,258.8 L903.1,259.1 Z" fill="#c838a8"/><path d="M887.0,261.5 L889.7,261.2 L890.3,264.2 L887.6,264.5 Z" fill="#7820b0"/><path d="M890.2,261.1 L893.0,260.8 L893.6,263.8 L890.9,264.1 Z" fill="#b828b8"/><path d="M893.5,260.8 L896.2,260.4 L896.8,263.4 L894.1,263.7 Z" fill="#7820b0"/><path d="M896.7,260.4 L899.5,260.1 L900.1,263.1 L897.4,263.4 Z" fill="#6818a0"/><path d="M900.0,260.0 L902.7,259.7 L903.3,262.7 L900.6,263.0 Z" fill="#f050b0"/><path d="M903.2,259.7 L906.0,259.3 L906.6,262.3 L903.9,262.6 Z" fill="#e82888"/><path d="M887.7,265.0 L890.5,264.7 L891.1,267.7 L888.4,268.0 Z" fill="#d020a0"/><path d="M891.0,264.7 L893.7,264.4 L894.3,267.3 L891.6,267.6 Z" fill="#6818a0"/><path d="M894.2,264.3 L897.0,264.0 L897.6,267.0 L894.9,267.3 Z" fill="#a018c0"/><path d="M897.5,263.9 L900.2,263.6 L900.8,266.6 L898.1,266.9 Z" fill="#e82888"/><path d="M900.7,263.6 L903.5,263.3 L904.1,266.2 L901.4,266.5 Z" fill="#6818a0"/><path d="M904.0,263.2 L906.7,262.9 L907.3,265.9 L904.6,266.2 Z" fill="#f050b0"/><path d="M888.5,268.6 L891.2,268.3 L891.8,271.2 L889.1,271.5 Z" fill="#9030d0"/><path d="M891.7,268.2 L894.5,267.9 L895.1,270.9 L892.3,271.2 Z" fill="#b828b8"/><path d="M895.0,267.8 L897.7,267.5 L898.3,270.5 L895.6,270.8 Z" fill="#c838a8"/><path d="M898.2,267.5 L901.0,267.2 L901.6,270.1 L898.8,270.4 Z" fill="#a018c0"/><path d="M901.5,267.1 L904.2,266.8 L904.8,269.8 L902.1,270.1 Z" fill="#f070c0"/><path d="M904.7,266.7 L907.5,266.4 L908.1,269.4 L905.3,269.7 Z" fill="#f050b0"/><path d="M889.2,272.1 L891.9,271.8 L892.6,274.8 L889.8,275.1 Z" fill="#c01848"/><path d="M892.5,271.7 L895.2,271.4 L895.8,274.4 L893.1,274.7 Z" fill="#d06060"/><path d="M895.7,271.4 L898.4,271.1 L899.1,274.0 L896.3,274.4 Z" fill="#7820b0"/><path d="M899.0,271.0 L901.7,270.7 L902.3,273.7 L899.6,274.0 Z" fill="#b828b8"/><path d="M902.2,270.6 L904.9,270.3 L905.6,273.3 L902.8,273.6 Z" fill="#f050b0"/><path d="M905.5,270.3 L908.2,270.0 L908.8,272.9 L906.1,273.3 Z" fill="#d020a0"/><path d="M890.0,275.7 L892.7,275.3 L893.3,278.3 L890.6,278.6 Z" fill="#a018c0"/><path d="M893.2,275.3 L895.9,275.0 L896.6,278.0 L893.8,278.3 Z" fill="#d84070"/><path d="M896.5,274.9 L899.2,274.6 L899.8,277.6 L897.1,277.9 Z" fill="#d06060"/><path d="M899.7,274.6 L902.4,274.2 L903.1,277.2 L900.3,277.5 Z" fill="#a018c0"/><path d="M903.0,274.2 L905.7,273.9 L906.3,276.9 L903.6,277.2 Z" fill="#9030d0"/><path d="M906.2,273.8 L908.9,273.5 L909.6,276.5 L906.8,276.8 Z" fill="#a018c0"/>
</g>
</g>

<!-- Text labels -->
<text x="685.200" y="60.800" font-size="20.600" text-anchor="middle">Fluorometry</text>
<text x="684.800" y="404" font-size="20.600" text-anchor="middle">Colorimetry</text>
<text x="929" y="328.500" font-size="20.600" text-anchor="middle">Digital</text>
<text x="931.800" y="353.500" font-size="20.600" text-anchor="middle">image analysis</text>
</svg>
</body>
</html>
